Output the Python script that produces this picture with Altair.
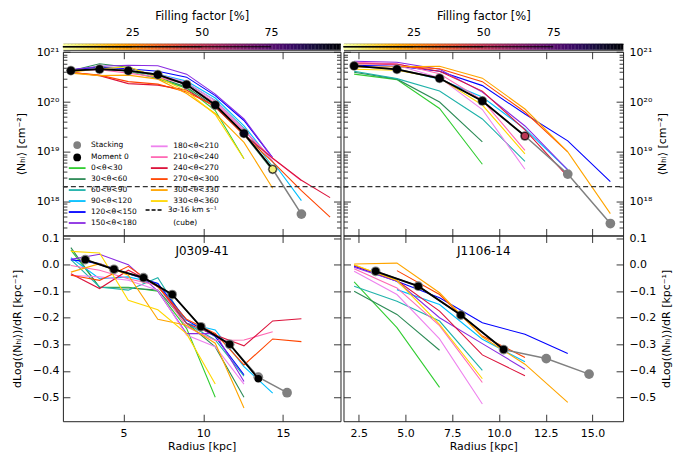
import altair as alt
import pandas as pd

# ---------------------------------------------------------------- data
SECTORS = ["0<θ<30", "30<θ<60", "60<θ<90", "90<θ<120", "120<θ<150", "150<θ<180",
           "180<θ<210", "210<θ<240", "240<θ<270", "270<θ<300", "300<θ<330", "330<θ<360"]
SECTOR_COLORS = ["limegreen", "seagreen", "lightseagreen", "deepskyblue", "blue", "blueviolet",
                 "violet", "hotpink", "crimson", "orangered", "orange", "gold"]

# ---- J0309-41 : radii [kpc]
R_A = [1.7, 3.5, 5.3, 7.15, 8.95, 10.75, 12.55, 14.35, 16.15, 17.95]
# log10 <N_HI> per sector
LOGN_A = {
    "0<θ<30":    [20.62, 20.72, 20.62, 20.47, 20.28, 19.83, 18.86],
    "30<θ<60":   [20.63, 20.77, 20.70, 20.50, 20.30, 19.90, 19.35, 18.62],
    "60<θ<90":   [20.62, 20.68, 20.62, 20.53, 20.38, 20.03, 19.47, 18.70],
    "90<θ<120":  [20.64, 20.68, 20.63, 20.56, 20.42, 20.08, 19.52, 18.80, 18.02],
    "120<θ<150": [20.65, 20.70, 20.67, 20.62, 20.50, 20.13, 19.63, 18.88],
    "150<θ<180": [20.65, 20.72, 20.74, 20.73, 20.56, 20.16, 19.66, 18.88],
    "180<θ<210": [20.63, 20.68, 20.64, 20.56, 20.40, 20.02, 19.45, 18.82],
    "210<θ<240": [20.62, 20.65, 20.58, 20.50, 20.36, 19.98, 19.42, 18.87, 18.42],
    "240<θ<270": [20.60, 20.53, 20.37, 20.34, 20.24, 19.90, 19.35, 18.87, 18.43, 18.08],
    "270<θ<300": [20.59, 20.54, 20.41, 20.36, 20.20, 19.92, 19.33, 18.80, 18.22, 17.69],
    "300<θ<330": [20.58, 20.53, 20.54, 20.46, 20.17, 19.77, 19.19, 18.27],
    "330<θ<360": [20.60, 20.67, 20.71, 20.50, 20.22, 19.75, 18.86],
}
M0_LOGN_A = [20.63, 20.66, 20.63, 20.55, 20.35, 19.94, 19.37, 18.65]
M0_FF_A = [100, 100, 100, 100, 100, 99, 96, 4]
ST_LOGN_A = [20.63, 20.66, 20.63, 20.55, 20.35, 19.94, 19.37, 18.65, 17.75]
RMID_A = [2.6, 4.4, 6.25, 8.05, 9.85, 11.65, 13.45, 15.25]
M0_D_A = [0.019, -0.0175, -0.049, -0.1125, -0.234, -0.30, -0.43]
ST_D_A = [0.019, -0.0175, -0.049, -0.1125, -0.234, -0.30, -0.424, -0.4825]
DLOG_A = {
    "0<θ<30":    [0.055, -0.085, -0.085, -0.10, -0.24, -0.50],
    "30<θ<60":   [0.064, -0.086, -0.088, -0.096, -0.22, -0.31, -0.50],
    "60<θ<90":   [0.019, -0.084, -0.096, -0.049, -0.221, -0.284, -0.42],
    "90<θ<120":  [0.026, -0.053, -0.046, -0.071, -0.221, -0.246, -0.384, -0.484],
    "120<θ<150": [0.019, 0.004, -0.034, -0.071, -0.209, -0.271, -0.415],
    "150<θ<180": [0.020, 0.039, 0.0, -0.10, -0.26, -0.26, -0.44],
    "180<θ<210": [-0.040, -0.046, -0.059, -0.096, -0.265, -0.309, -0.45],
    "210<θ<240": [-0.003, -0.021, -0.053, -0.078, -0.234, -0.286, -0.284, -0.253],
    "240<θ<270": [-0.034, -0.09, -0.021, -0.078, -0.221, -0.265, -0.306, -0.212, -0.204],
    "270<θ<300": [-0.040, -0.059, -0.006, -0.084, -0.206, -0.259, -0.378, -0.28, -0.29],
    "300<θ<330": [-0.028, 0.004, -0.04, -0.206, -0.228, -0.296, -0.54],
    "330<θ<360": [0.050, 0.044, -0.134, -0.17, -0.26, -0.45],
}

# ---- J1106-14
R_B = [2.25, 4.54, 6.82, 9.11, 11.39, 13.68, 15.96]
LOGN_B = {
    "0<θ<30":    [20.56, 20.45, 19.87, 18.75],
    "30<θ<60":   [20.60, 20.46, 20.00, 19.20],
    "60<θ<90":   [20.62, 20.47, 20.22, 19.66, 18.81],
    "90<θ<120":  [None, 20.66, 20.46, 20.10, 19.46, 18.64],
    "120<θ<150": [20.74, 20.72, 20.62, 20.33, 19.76, 19.22, 18.40],
    "150<θ<180": [20.82, 20.80, 20.66, 20.20, 19.52, 18.64],
    "180<θ<210": [20.80, 20.74, 20.49, 19.85, 18.65],
    "210<θ<240": [20.80, 20.77, 20.57, 20.04, 19.03],
    "240<θ<270": [20.77, 20.76, 20.62, 20.22, 19.44, 18.50],
    "270<θ<300": [None, 20.72, 20.67, 20.41, 19.80, 19.00],
    "300<θ<330": [20.70, 20.71, 20.72, 20.48, 19.86, 19.00, 17.76],
    "330<θ<360": [20.66, 20.64, 20.48, 19.94, 18.96],
}
M0_LOGN_B = [20.726, 20.658, 20.477, 20.022, 19.318]
M0_FF_B = [100, 100, 100, 99, 50]
ST_LOGN_B = [20.726, 20.658, 20.477, 20.022, 19.318, 18.553, 17.56]
RMID_B = [3.4, 5.68, 7.96, 10.25, 12.53, 14.82]
M0_D_B = [-0.025, -0.081, -0.19, -0.32]
ST_D_B = [-0.025, -0.081, -0.19, -0.32, -0.354, -0.4125]
DLOG_B = {
    "0<θ<30":    [-0.065, -0.2375, -0.4625],
    "30<θ<60":   [-0.10, -0.1875, -0.3225],
    "60<θ<90":   [-0.081, -0.1375, -0.2125, -0.398],
    "90<θ<120":  [None, -0.094, -0.15, -0.281, -0.366],
    "120<θ<150": [-0.006, -0.0625, -0.125, -0.219, -0.2625, -0.335],
    "150<θ<180": [-0.010, -0.0625, -0.20, -0.2975, -0.394],
    "180<θ<210": [-0.025, -0.1125, -0.28, -0.525],
    "210<θ<240": [-0.015, -0.0875, -0.23, -0.444],
    "240<θ<270": [-0.0025, -0.06, -0.175, -0.34, -0.419],
    "270<θ<300": [None, -0.0225, -0.1125, -0.269, -0.35],
    "300<θ<330": [0.0025, 0.006, -0.106, -0.2725, -0.375, -0.519],
    "330<θ<360": [0.0, -0.06, -0.225, -0.43],
}

SIGMA_LIMIT = 2.0e18          # 3 sigma - 16 km/s (cube)
FF_TICKS = [25, 50, 75]
FF_GRADIENT = [i * 0.5 for i in range(200)]
X_TICKS_A = [5, 10, 15]
X_TICKS_B = [2.5, 5.0, 7.5, 10.0, 12.5, 15.0]
Y_TICKS_TOP = [1e18, 1e19, 1e20, 1e21]
Y_MINOR_TOP = [m * 10.0 ** e for e in (17, 18, 19, 20) for m in range(2, 10) if m * 10.0 ** e > 2.2e17]
Y_TICKS_BOT = [-0.5, -0.4, -0.3, -0.2, -0.1, 0.0, 0.1]

# legend entries (column-major order of a 2-column legend)
LEG_POINTS = ["Stacking", "Moment 0"]
LEG_POINT_COLORS = ["gray", "black"]
LEG_LINES = ["blank1", "blank2", "0<θ<30", "30<θ<60", "60<θ<90", "90<θ<120", "120<θ<150", "150<θ<180",
             "180<θ<210", "210<θ<240", "240<θ<270", "270<θ<300", "300<θ<330", "330<θ<360",
             "blank3", "(cube)"]
LEG_DASHED = ["3σ-16 km s⁻¹"]

# ---------------------------------------------------------------- styling
W_A, W_B = 278, 280
H_TOP, H_BOT, H_CB = 184, 186, 8
X_DOM_A = [1.2, 18.6]
X_DOM_B = [1.68, 16.64]
Y_DOM_TOP = [10 ** 17.32, 10 ** 21.01]
Y_DOM_BOT = [-0.59, 0.11]
FONT = "DejaVu Sans"
FF_SCALE = alt.Scale(scheme="inferno", reverse=True, domain=[0, 100])
COLOR_OF = dict(zip(SECTORS, SECTOR_COLORS))
LEG_LINE_COLORS = [COLOR_OF.get(k, "transparent") for k in LEG_LINES]
LINE_SYMBOL = "M-2.8,0H2.8"

TOP_LABEL_EXPR = ("datum.value >= 1e21 ? '10²¹' : datum.value >= 1e20 ? '10²⁰' : "
                  "datum.value >= 1e19 ? '10¹⁹' : '10¹⁸'")

LX = 10.3


def sector_df(radii, table, field):
    rows = []
    for name, color in zip(SECTORS, SECTOR_COLORS):
        for r, v in zip(radii, table[name]):
            if v is not None:
                rows.append({"R": r, field: v, "sector": name, "color": color})
    return pd.DataFrame(rows)


def label_axis(orient, values, title=None, labels=True, fmt=None, expr=None):
    kw = dict(orient=orient, values=values, ticks=False, domain=False, grid=False,
              labels=labels, labelPadding=4, title=title, titlePadding=10)
    if fmt:
        kw["format"] = fmt
    if expr:
        kw["labelExpr"] = expr
    if orient == "right":
        kw["titleAngle"] = 270
        kw["titleBaseline"] = "top"
        kw["titlePadding"] = 5
        kw["labelPadding"] = 6
    if orient == "bottom":
        kw["labelPadding"] = 6
        kw["titlePadding"] = 2
    return alt.Axis(**kw)


def tick_axis(orient, values, size):
    return alt.Axis(orient=orient, values=values, labels=False, domain=False, grid=False,
                    ticks=True, tickSize=size, offset=-size, title=None,
                    tickColor="#222", tickWidth=0.9)


def name_axis(name):
    return alt.Axis(orient="top", offset=-22, labels=False, ticks=False, domain=False, grid=False,
                    title=name, titlePadding=0, titleFontSize=12, titleFontWeight="normal")


def panel(kind, radii, sec_table, m0_r, m0_v, m0_ff, st_r, st_v, xdom, xticks, xfmt,
          side, width, name=None, legend=False):
    top = kind == "top"
    field = "N" if top else "d"
    xs = alt.Scale(domain=xdom, nice=False, zero=False)
    if top:
        ys = alt.Scale(type="log", domain=Y_DOM_TOP, nice=False)
        yticks, ymin = Y_TICKS_TOP, Y_MINOR_TOP
        ytitle = "⟨Nₕᵢ⟩ [cm⁻²]"
        sdf = sector_df(radii, sec_table, "logN")
        sdf["N"] = 10 ** sdf["logN"]
        m0 = pd.DataFrame({"R": m0_r, "N": [10 ** v for v in m0_v], "ff": m0_ff})
        st = pd.DataFrame({"R": st_r, "N": [10 ** v for v in st_v]})
        ylab = label_axis(side, yticks, ytitle, expr=TOP_LABEL_EXPR)
        xlab = label_axis("bottom", xticks, None, labels=False)
    else:
        ys = alt.Scale(domain=Y_DOM_BOT, nice=False, zero=False)
        yticks, ymin = Y_TICKS_BOT, None
        ytitle = "dLog(⟨Nₕᵢ⟩)/dR [kpc⁻¹]"
        sdf = sector_df(radii, sec_table, "d")
        m0 = pd.DataFrame({"R": m0_r, "d": m0_v})
        st = pd.DataFrame({"R": st_r, "d": st_v})
        ylab = label_axis(side, yticks, ytitle, fmt=".1f")
        xlab = label_axis("bottom", xticks, "Radius [kpc]", fmt=xfmt)

    other = "right" if side == "left" else "left"
    Y = lambda ax: alt.Y(f"{field}:Q", scale=ys, axis=ax)
    X = lambda ax: alt.X("R:Q", scale=xs, axis=ax)

    layers = []
    layers.append(alt.Chart(sdf).mark_line(strokeWidth=1.1, clip=True).encode(
        x=X(xlab), y=Y(ylab), detail="sector:N", color=alt.Color("color:N", scale=None)))
    if top:
        layers.append(alt.Chart(pd.DataFrame({"R": [xdom[0], xdom[1]], "N": [SIGMA_LIMIT, SIGMA_LIMIT]})).mark_line(
            color="#333", strokeWidth=1.2, strokeDash=[5, 3]).encode(x=X(None), y=Y(None)))
    layers.append(alt.Chart(st).mark_line(color="gray", strokeWidth=1.5).encode(
        x=X(tick_axis("bottom", xticks, 7)), y=Y(tick_axis(side, yticks, 7))))
    layers.append(alt.Chart(st).mark_circle(color="gray", size=95, opacity=1).encode(
        x=X(tick_axis("top", xticks, 7)), y=Y(tick_axis(other, yticks, 7))))
    layers.append(alt.Chart(m0).mark_line(color="black", strokeWidth=1.8).encode(
        x=X(name_axis(name) if name else None), y=Y(tick_axis(side, ymin, 4) if ymin else None)))
    if top:
        pts = alt.Chart(m0).mark_circle(size=56, stroke="black", strokeWidth=0.8, opacity=1).encode(
            x=X(None), y=Y(tick_axis(other, ymin, 4)),
            fill=alt.Fill("ff:Q", scale=FF_SCALE, legend=None))
    else:
        pts = alt.Chart(m0).mark_circle(size=56, color="black", opacity=1).encode(x=X(None), y=Y(None))
    layers.append(pts)

    if legend:
        common = dict(title=None, orient="none", labelFontSize=7.5, labelFont=FONT, labelColor="black",
                      symbolOpacity=1, padding=0, direction="vertical")
        hidden = st.head(0)
        # line-sample entries (2 columns, column-major)
        l2 = alt.Legend(legendX=LX, legendY=98.5, columns=2, columnPadding=10.2, labelOffset=9.9,
                        rowPadding=3.0, gridAlign="all",
                        symbolType=LINE_SYMBOL, symbolSize=36, symbolStrokeWidth=1.8,
                        labelExpr="indexof(datum.label, 'blank') == 0 ? '' : datum.label", **common)
        d2 = hidden.merge(pd.DataFrame({"entry": LEG_LINES}), how="cross")
        layers.append(alt.Chart(d2).mark_line().encode(
            x=X(None), y=Y(None),
            stroke=alt.Stroke("entry:N", scale=alt.Scale(domain=LEG_LINES, range=LEG_LINE_COLORS), legend=l2)))
        # marker entries
        l1 = alt.Legend(legendX=LX, legendY=89.5, labelOffset=9.95, symbolType="circle", symbolSize=60,
                        rowPadding=4.3, symbolStrokeWidth=0, **common)
        d1 = hidden.merge(pd.DataFrame({"p": LEG_POINTS}), how="cross")
        layers.append(alt.Chart(d1).mark_point(filled=True).encode(
            x=X(None), y=Y(None),
            color=alt.Color("p:N", scale=alt.Scale(domain=LEG_POINTS, range=LEG_POINT_COLORS), legend=l1)))
        # dashed entry
        l3 = alt.Legend(legendX=LX + 76.9, legendY=162.5, labelOffset=9.9, rowPadding=3.0,
                        symbolType=LINE_SYMBOL, symbolSize=36, symbolStrokeWidth=1.5,
                        symbolStrokeColor="black", **common)
        d3 = hidden.merge(pd.DataFrame({"q": LEG_DASHED}), how="cross")
        layers.append(alt.Chart(d3).mark_line(color="black").encode(
            x=X(None), y=Y(None),
            strokeDash=alt.StrokeDash("q:N", scale=alt.Scale(domain=LEG_DASHED, range=[[4, 2]]), legend=l3)))

    props = dict(width=width, height=H_TOP if top else H_BOT)
    return alt.layer(*layers).resolve_axis(x="independent", y="independent").properties(**props)


def colorbar(width):
    df = pd.DataFrame({"ff": FF_GRADIENT, "bar": "cb"})
    xs = alt.Scale(domain=[0, 100], nice=False, zero=False)
    ys = alt.Scale(paddingInner=0, paddingOuter=1 / 6, align=0)
    bar = alt.Chart(df).transform_calculate(ff2="datum.ff + 0.6").mark_rect().encode(
        x=alt.X("ff:Q", scale=xs, axis=alt.Axis(orient="top", values=FF_TICKS, ticks=False, domain=True,
                                                domainColor="#222", domainWidth=1,
                                                grid=False, labelPadding=6, title="Filling factor [%]",
                                                titlePadding=5, titleFontWeight="normal",
                                                titleFontSize=11.5)),
        x2="ff2:Q",
        y=alt.Y("bar:N", scale=ys, axis=None),
        color=alt.Color("ff:Q", scale=FF_SCALE, legend=None))
    ticks = alt.Chart(pd.DataFrame({"ff": FF_TICKS, "bar": "cb"})).mark_rule(color="black", strokeWidth=1).encode(
        x=alt.X("ff:Q", scale=xs, axis=alt.Axis(orient="bottom", values=FF_TICKS, labels=False, domain=True,
                                                domainColor="#222", domainWidth=1, offset=-2,
                                                grid=False, ticks=False, title=None)),
        y=alt.Y("bar:N", scale=ys, axis=None))
    return alt.layer(bar, ticks).resolve_axis(x="independent").properties(
        width=width, height=H_CB, view=alt.ViewBackground(stroke="transparent"))


cbA = colorbar(W_A)
cbB = colorbar(W_B)
topA = panel("top", R_A, LOGN_A, R_A[:8], M0_LOGN_A, M0_FF_A, R_A[:9], ST_LOGN_A,
             X_DOM_A, X_TICKS_A, "d", "left", W_A, legend=True)
topB = panel("top", R_B, LOGN_B, R_B[:5], M0_LOGN_B, M0_FF_B, R_B[:7], ST_LOGN_B,
             X_DOM_B, X_TICKS_B, ".1f", "right", W_B)
botA = panel("bot", R_A, DLOG_A, RMID_A[:7], M0_D_A, None, RMID_A[:8], ST_D_A,
             X_DOM_A, X_TICKS_A, "d", "left", W_A, name="J0309-41")
botB = panel("bot", R_B, DLOG_B, RMID_B[:4], M0_D_B, None, RMID_B[:6], ST_D_B,
             X_DOM_B, X_TICKS_B, ".1f", "right", W_B, name="J1106-14")

chart = alt.concat(cbA, cbB, topA, topB, botA, botB, columns=2, bounds="flush",
                   spacing={"row": 0, "column": 3}).properties(
    padding={"left": 10, "right": 0, "top": 9.5, "bottom": 0}, background="white"
).configure_axis(
    labelFont=FONT, titleFont=FONT, labelFontSize=11, titleFontSize=11, titleFontWeight="normal",
    labelColor="black", titleColor="black", tickColor="#222"
).configure_view(stroke="#222", strokeWidth=1)

chart.save("out.html", embed_options={"renderer": "svg", "actions": False})
